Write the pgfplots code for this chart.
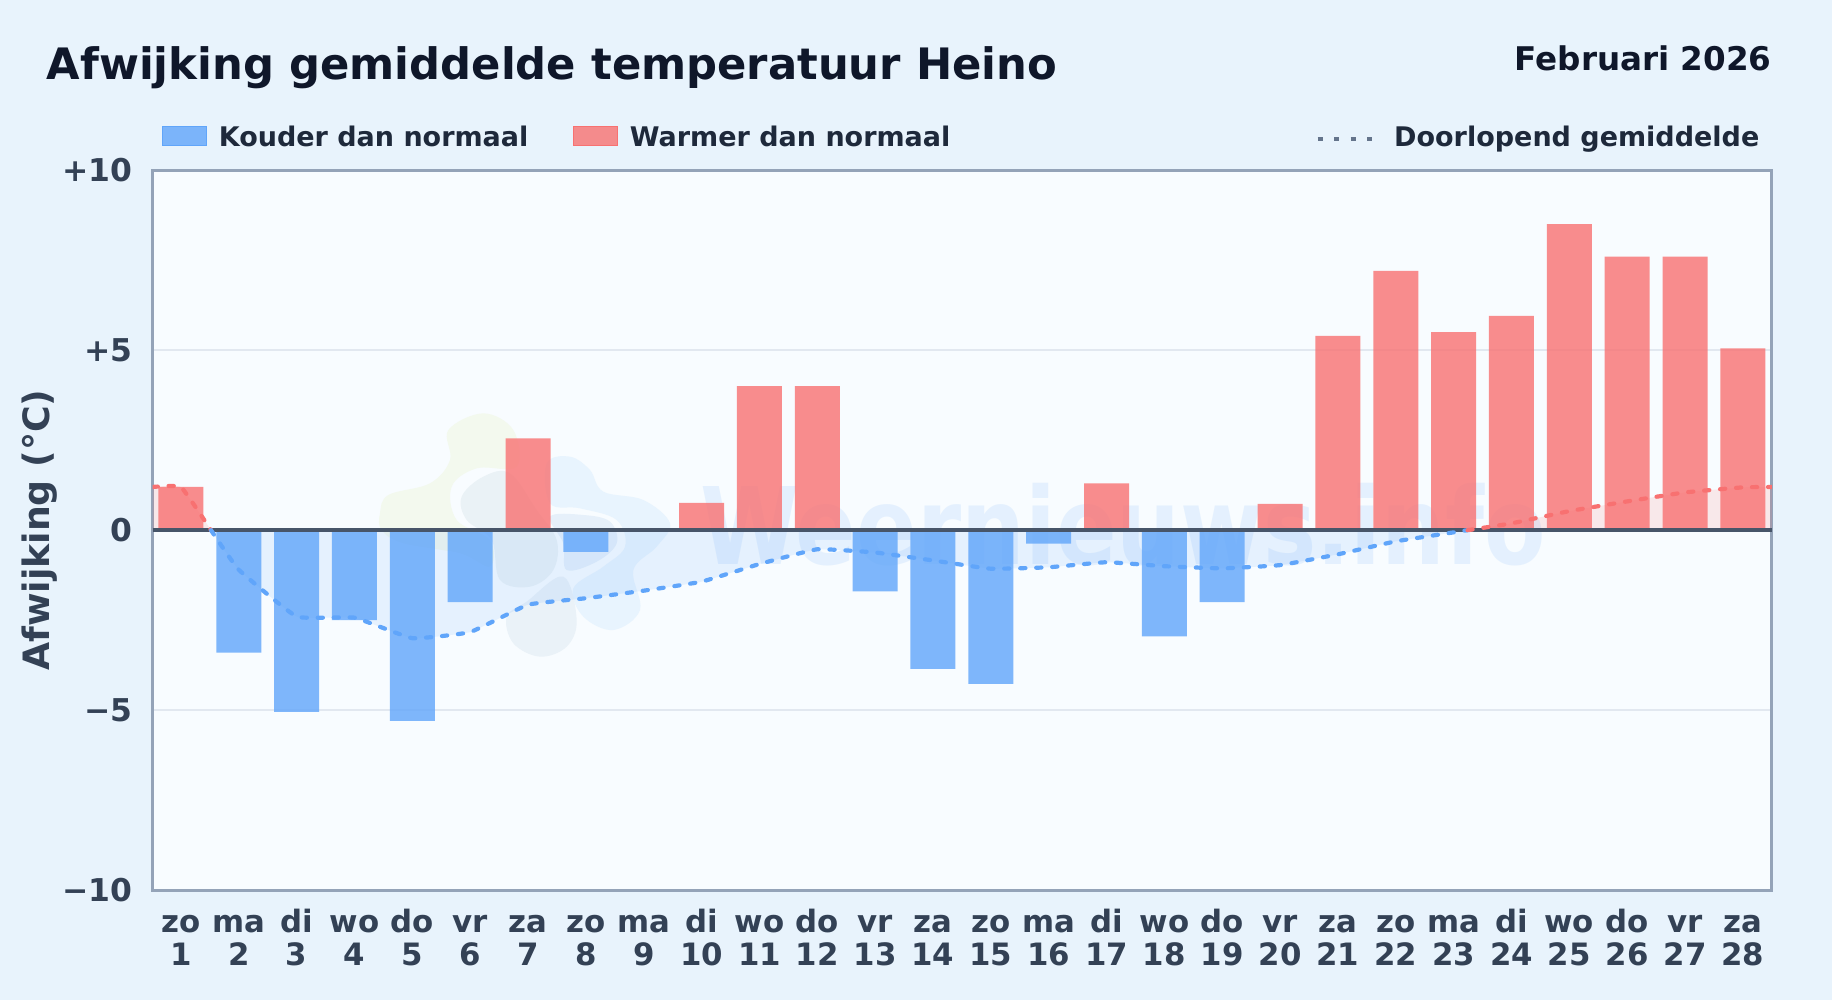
\documentclass[border=0pt]{standalone}
\usepackage{fontspec}
\setmainfont{DejaVu Sans}
\usepackage{pgfplots}
\pgfplotsset{compat=1.18}

\definecolor{pagebg}{HTML}{E8F3FC}
\definecolor{plotbg}{HTML}{F8FCFF}
\definecolor{framecol}{HTML}{94A3B8}
\definecolor{gridcol}{HTML}{E2E8F0}
\definecolor{zerocol}{HTML}{475569}
\definecolor{ticktext}{HTML}{334155}
\definecolor{legtext}{HTML}{1E293B}
\definecolor{titletext}{HTML}{0F172A}
\definecolor{dotgrey}{HTML}{64748B}
\definecolor{coldblue}{HTML}{60A5FA}
\definecolor{warmred}{HTML}{F87171}

% two-line day label, strut keeps the baselines level
\newcommand\dl[2]{\rule{0pt}{11.5pt}#1\\#2}

\begin{document}
\begin{tikzpicture}[x=0.5pt,y=0.5pt]
	\path[use as bounding box] (0,0) rectangle (1832,1000);
	\fill[pagebg] (0,0) rectangle (1832,1000);
	\fill[plotbg] (152.6,110) rectangle (1771.8,830);

	% logo behind the plot, coordinates are 1/3 px from (350,380)
	\begin{scope}[shift={(350,620)},x=0.16667pt,y=-0.16667pt]
		\fill[color={rgb,255:red,243;green,249;blue,238}] plot[smooth cycle,tension=0.6] coordinates {
			(90,400) (115,345) (240,310) (300,240) (295,150) (400,100) (490,150) (500,260)
			(380,265) (305,320) (320,420) (420,480) (420,560) (330,520) (160,490) (95,450)};
		\fill[color={rgb,255:red,234;green,242;blue,246}] plot[smooth cycle,tension=0.6] coordinates {
			(335,350) (400,290) (480,280) (560,390) (620,480) (610,570) (540,620) (450,600) (425,480) (350,420)};
		\fill[color={rgb,255:red,232;green,244;blue,254}] plot[smooth cycle,tension=0.6] coordinates {
			(590,250) (660,230) (720,270) (760,335) (880,360) (960,430) (920,500) (850,570) (870,690)
			(790,750) (700,710) (670,625) (760,560) (825,500) (800,420) (690,385) (600,370)};
		\fill[color={rgb,255:red,234;green,242;blue,248}] plot[smooth cycle,tension=0.6] coordinates {
			(470,710) (530,665) (640,590) (680,720) (650,800) (570,830) (490,790)};
		\fill[color={rgb,255:red,230;green,240;blue,250}] plot[smooth cycle,tension=0.6] coordinates {
			(600,410) (700,405) (780,425) (800,490) (740,545) (650,570) (640,490)};
	\end{scope}
	% watermark
	\node[anchor=base west,inner sep=0pt,xscale=0.837,transform shape,text=coldblue,text opacity=0.13,
		font=\fontsize{53.5}{60}\bfseries\selectfont] at (700,435) {Weernieuws.info};

	\begin{axis}[
		at={(76.3pt,54.9pt)}, anchor=south west,
		scale only axis, width=809.6pt, height=360pt,
		xmin=0.51, xmax=28.5, ymin=-10, ymax=10,
		axis line style={draw=framecol,line width=1.5pt},
		tick style={draw=none},
		ymajorgrids, grid style={draw=gridcol,line width=1pt},
		xtick={1,...,28},
		xticklabels={{\dl{zo}{1}},{\dl{ma}{2}},{\dl{di}{3}},{\dl{wo}{4}},{\dl{do}{5}},{\dl{vr}{6}},{\dl{za}{7}},
			{\dl{zo}{8}},{\dl{ma}{9}},{\dl{di}{10}},{\dl{wo}{11}},{\dl{do}{12}},{\dl{vr}{13}},{\dl{za}{14}},
			{\dl{zo}{15}},{\dl{ma}{16}},{\dl{di}{17}},{\dl{wo}{18}},{\dl{do}{19}},{\dl{vr}{20}},{\dl{za}{21}},
			{\dl{zo}{22}},{\dl{ma}{23}},{\dl{di}{24}},{\dl{wo}{25}},{\dl{do}{26}},{\dl{vr}{27}},{\dl{za}{28}}},
		xticklabel style={align=center,text=ticktext,inner sep=0pt,anchor=north,yshift=-9.5pt,
			font=\fontsize{15.4}{16.5}\bfseries\selectfont},
		ytick={-10,-5,0,5,10},
		yticklabels={−10,−5,0,+5,+10},
		yticklabel style={text=ticktext,inner sep=0pt,xshift=-10pt,
			font=\fontsize{15.7}{18}\bfseries\selectfont},
		ylabel={Afwijking (°C)},
		every axis y label/.style={at={(axis description cs:-0.0695,0.5)},rotate=90,anchor=center,
			text=ticktext,font=\fontsize{18.15}{22}\bfseries\selectfont},
		title={Afwijking gemiddelde temperatuur Heino},
		every axis title/.style={at={(axis description cs:-0.0656,1.1264)},anchor=base west,inner sep=0pt,
			text=titletext,font=\fontsize{21.65}{26}\bfseries\selectfont},
		legend columns=-1,
		legend style={at={(axis description cs:0.0058,1.0282)},anchor=south west,
			draw=none,fill=none,inner sep=0pt,nodes={inner sep=0pt},
			text=legtext,font=\fontsize{13.5}{16}\bfseries\selectfont,
			/tikz/column 1/.style={column sep=5.8pt},
			/tikz/column 2/.style={column sep=22.5pt},
			/tikz/column 3/.style={column sep=5.8pt},
			/tikz/column 4/.style={column sep=182.5pt},
			/tikz/column 5/.style={column sep=9.2pt}},
		]
		\addlegendimage{legend image code/.code={\fill[coldblue,fill opacity=0.8] (0pt,-4pt) rectangle (22pt,5.5pt);}}
		\addlegendentry{Kouder dan normaal}
		\addlegendimage{legend image code/.code={\fill[warmred,fill opacity=0.8] (0pt,-4pt) rectangle (22pt,5.5pt);}}
		\addlegendentry{Warmer dan normaal}
		\addlegendimage{legend image code/.code={\draw[dotgrey,line width=2.2pt,dash pattern=on 2.5pt off 5.75pt] (0pt,-0.7pt) -- (28pt,-0.7pt);}}
		\addlegendentry{Doorlopend gemiddelde}

		% shaded area between running mean and zero
		\addplot[forget plot,draw=none,fill=warmred,fill opacity=0.14,smooth,tension=0.2] coordinates {
			(0.51,1.2) (1,1.2) (1.52,0)} \closedcycle;
		\addplot[forget plot,draw=none,fill=coldblue,fill opacity=0.12,smooth,tension=0.2] coordinates {
			(1.52,0) (2,-1.1) (3,-2.4) (4,-2.43) (5,-3.0) (6,-2.83) (7,-2.07) (8,-1.89) (9,-1.68) (10,-1.43)
			(11,-0.94) (12,-0.53) (13,-0.62) (14,-0.84) (15,-1.07) (16,-1.03) (17,-0.89) (18,-1.0) (19,-1.06)
			(20,-0.97) (21,-0.67) (22,-0.31) (23,-0.06) (23.24,0)} \closedcycle;
		\addplot[forget plot,draw=none,fill=warmred,fill opacity=0.14,smooth,tension=0.2] coordinates {
			(23.24,0) (24,0.19) (25,0.53) (26,0.8) (27,1.05) (28,1.19) (28.5,1.2)} \closedcycle;

		% bars
		\addplot[forget plot,ybar,bar shift=0pt,bar width=22.5pt,draw=none,fill=coldblue,fill opacity=0.8] coordinates {
			(2,-3.4) (3,-5.05) (4,-2.5) (5,-5.3) (6,-2.0) (8,-0.6) (13,-1.7) (14,-3.85) (15,-4.27) (16,-0.37)
			(18,-2.95) (19,-2.0)};
		\addplot[forget plot,ybar,bar shift=0pt,bar width=22.5pt,draw=none,fill=warmred,fill opacity=0.8] coordinates {
			(1,1.2) (7,2.55) (10,0.76) (11,4.0) (12,4.0) (17,1.3) (20,0.73) (21,5.4) (22,7.2) (23,5.5)
			(24,5.95) (25,8.5) (26,7.6) (27,7.6) (28,5.05)};

		% zero line
		\addplot[forget plot,draw=zerocol,line width=1.8pt] coordinates {(0.51,0) (28.5,0)};

		% running mean
		\addplot[forget plot,warmred,line width=2.1pt,line cap=round,dash pattern=on 2.6pt off 5.4pt,smooth,tension=0.2] coordinates {
			(0.51,1.2) (1,1.2) (1.52,0)};
		\addplot[forget plot,coldblue,line width=2.1pt,line cap=round,dash pattern=on 2.6pt off 5.4pt,smooth,tension=0.2] coordinates {
			(1.52,0) (2,-1.1) (3,-2.4) (4,-2.43) (5,-3.0) (6,-2.83) (7,-2.07) (8,-1.89) (9,-1.68) (10,-1.43)
			(11,-0.94) (12,-0.53) (13,-0.62) (14,-0.84) (15,-1.07) (16,-1.03) (17,-0.89) (18,-1.0) (19,-1.06)
			(20,-0.97) (21,-0.67) (22,-0.31) (23,-0.06) (23.24,0)};
		\addplot[forget plot,warmred,line width=2.1pt,line cap=round,dash pattern=on 2.6pt off 5.4pt,smooth,tension=0.2] coordinates {
			(23.24,0) (24,0.19) (25,0.53) (26,0.8) (27,1.05) (28,1.19) (28.5,1.2)};
	\end{axis}

	\node[anchor=base east,inner sep=0pt,text=titletext,font=\fontsize{16.3}{20}\bfseries\selectfont]
		at (1772,929) {Februari 2026};
\end{tikzpicture}
\end{document}
